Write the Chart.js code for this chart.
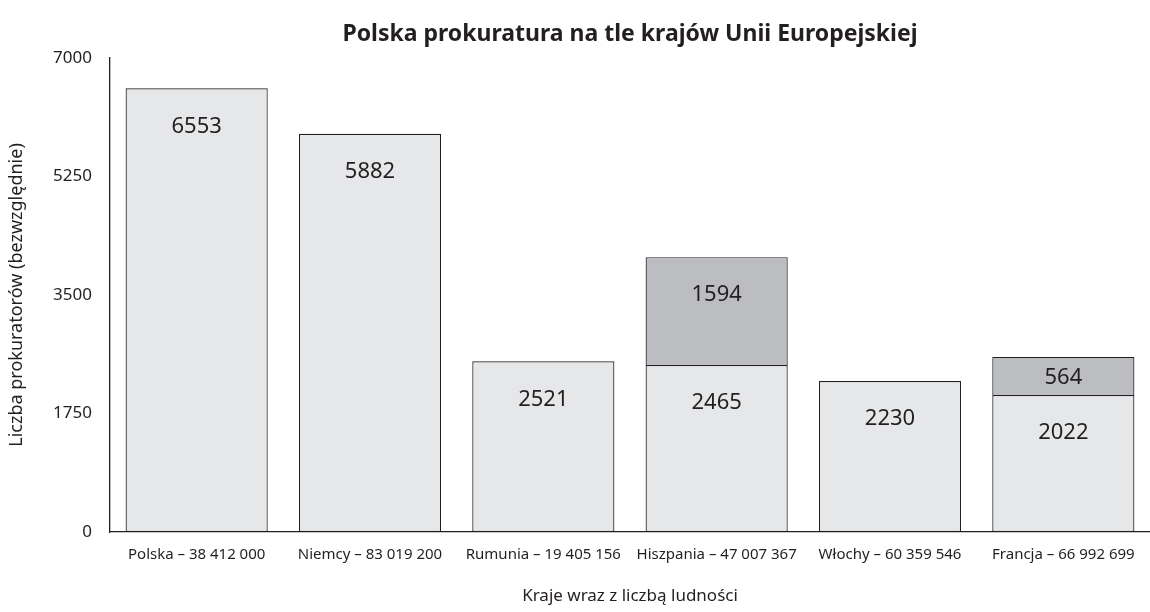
<!DOCTYPE html>
<html>
<head>
<meta charset="utf-8">
<script src="https://cdn.jsdelivr.net/npm/chart.js@4"></script>
<style>
  html, body { margin: 0; padding: 0; background: #fff; }
  #wrap { width: 1150px; height: 612px; }
</style>
</head>
<body>
<div id="wrap"><canvas id="chart"></canvas></div>
<script>
const countries = [
    'Polska – 38 412 000',
    'Niemcy – 83 019 200',
    'Rumunia – 19 405 156',
    'Hiszpania – 47 007 367',
    'Włochy – 60 359 546',
    'Francja – 66 992 699'
];
const baseValues = [6553, 5882, 2521, 2465, 2230, 2022];
const extraValues = [null, null, null, 1594, null, 564];
const yTicks = [0, 1750, 3500, 5250, 7000];

const FONT = '"Noto Sans", "Open Sans", sans-serif';
const INK = '#231f20';

// value labels near the top of each segment
const valueLabels = {
    id: 'valueLabels',
    afterDatasetsDraw(chart) {
        const ctx = chart.ctx;
        ctx.save();
        ctx.font = `22px ${FONT}`;
        ctx.fillStyle = INK;
        ctx.textAlign = 'center';
        ctx.textBaseline = 'middle';
        chart.data.datasets.forEach((ds, di) => {
            const meta = chart.getDatasetMeta(di);
            meta.data.forEach((bar, i) => {
                const v = ds.data[i];
                if (v == null) return;
                const h = bar.base - bar.y;
                const off = Math.min(38, h / 2 + 2);
                ctx.fillText(String(v), bar.x, bar.y + off);
            });
        });
        ctx.restore();
    }
};

new Chart(document.getElementById('chart'), {
    type: 'bar',
    data: {
        labels: countries,
        datasets: [
            {
                data: baseValues,
                backgroundColor: '#e6e7e8',
                borderColor: INK,
                borderWidth: 1.2,
                borderSkipped: false
            },
            {
                data: extraValues,
                backgroundColor: '#bcbdc0',
                borderColor: INK,
                borderWidth: 1.2,
                borderSkipped: 'start'
            }
        ]
    },
    options: {
        responsive: true,
        maintainAspectRatio: false,
        animation: false,
        layout: { padding: 0 },
        datasets: { bar: { categoryPercentage: 0.82, barPercentage: 1 } },
        scales: {
            x: {
                stacked: true,
                grid: { display: false, drawTicks: false },
                border: { display: true, color: INK, width: 1.3 },
                ticks: { color: INK, font: { family: FONT, size: 15 }, padding: 14, maxRotation: 0 },
                title: {
                    display: true,
                    text: 'Kraje wraz z liczbą ludności',
                    color: INK,
                    font: { family: FONT, size: 17 },
                    padding: { top: 20, bottom: 6 }
                },
                afterFit: (s) => { s.height = 80; }
            },
            y: {
                stacked: true,
                min: 0,
                max: 7000,
                afterBuildTicks: (s) => { s.ticks = yTicks.map(v => ({ value: v })); },
                grid: { display: false, drawTicks: false },
                border: { display: true, color: INK, width: 1.3 },
                ticks: {
                    color: INK,
                    font: { family: FONT, size: 17 },
                    padding: 18,
                    callback: (v) => String(v)
                },
                title: {
                    display: true,
                    text: 'Liczba prokuratorów (bezwzględnie)',
                    color: INK,
                    font: { family: FONT, size: 18 },
                    padding: { top: 6, bottom: 20 }
                },
                afterFit: (s) => { s.width = 110; }
            }
        },
        plugins: {
            legend: { display: false },
            tooltip: { enabled: false },
            title: {
                display: true,
                fullSize: false,
                text: 'Polska prokuratura na tle krajów Unii Europejskiej',
                color: INK,
                font: { family: FONT, size: 23, weight: 'bold' },
                padding: { top: 21, bottom: 9.4 }
            }
        }
    },
    plugins: [valueLabels]
});
</script>
</body>
</html>
